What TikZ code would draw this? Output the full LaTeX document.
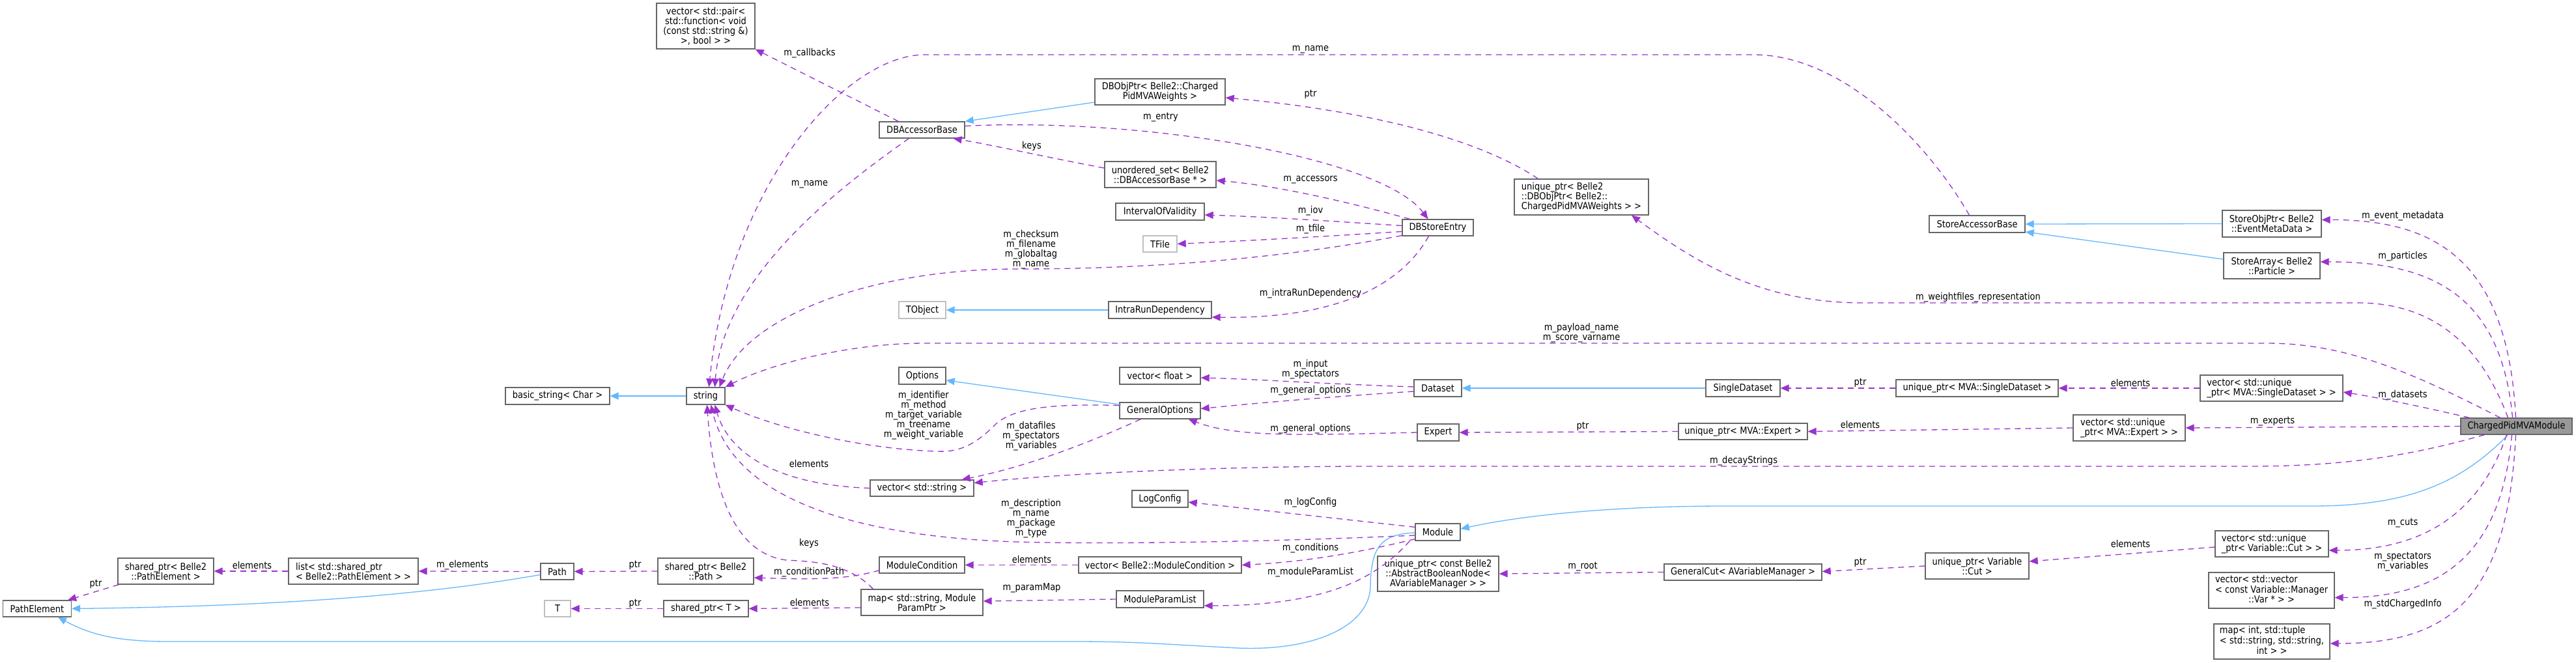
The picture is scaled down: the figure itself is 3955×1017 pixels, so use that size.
\documentclass[tikz,border=0pt]{standalone}
\usepackage{fontspec}
\setmainfont{DejaVu Sans}[FakeStretch=0.88]
\usetikzlibrary{arrows.meta,calc}
\definecolor{usecol}{HTML}{9A32CD}
\definecolor{inhcol}{HTML}{63B8FF}
\definecolor{bordcol}{HTML}{666666}
\definecolor{lightbord}{HTML}{BFBFBF}
\definecolor{mainfill}{HTML}{999999}
\newcommand\dgfont{\fontsize{14.8}{15}\selectfont}
\tikzset{
  cls/.style={draw=bordcol, line width=1.3pt, fill=white, inner sep=0pt, font=\dgfont, align=center},
  ext/.style={cls, draw=lightbord},
  box/.style 2 args={minimum width=#1pt, minimum height=#2pt},
  usage/.style={draw=usecol, line width=1.3pt, dash pattern=on 9pt off 7pt, -{Triangle[length=13pt,width=11pt]}},
  inh/.style={draw=inhcol, line width=1.3pt, -{Triangle[length=13pt,width=11pt]}},
  lbl/.style={font=\dgfont, inner sep=0pt, align=center, text=black}
}
\begin{document}
\begin{tikzpicture}[x=1pt,y=-1pt]
\path[use as bounding box, fill=white] (0,0) rectangle (3955,1017);
% ---------------- nodes
\node[cls, box={105}{25}] (pe) at (57,934.5) {PathElement};
\node[cls, box={147}{40}] (spPE) at (254.5,877) {shared\_ptr< Belle2\\::PathElement >};
\node[cls, box={199}{40}, align=left] (lst) at (542.5,877) {list< std::shared\_ptr\\< Belle2::PathElement > >};
\node[cls, box={51}{25}] (path) at (855.5,877.5) {Path};
\node[cls, box={147}{40}] (spP) at (1083.5,877) {shared\_ptr< Belle2\\::Path >};
\node[ext, box={40}{25}] (T) at (856,934.5) {T};
\node[cls, box={130}{25}] (spT) at (1084,934.5) {shared\_ptr< T >};
\node[cls, box={160}{26}] (bs) at (856,608) {basic\_string< Char >};
\node[cls, box={59}{26}] (str) at (1083.5,608) {string};
\node[cls, box={151}{70}] (vpair) at (1083.5,40) {vector< std::pair<\\std::function< void\\(const std::string \&)\\>, bool > >};
\node[cls, box={131}{25}] (dbab) at (1415.5,199.5) {DBAccessorBase};
\node[cls, box={159}{25}] (vstr) at (1415.5,749.5) {vector< std::string >};
\node[cls, box={131}{25}] (mc) at (1415.5,867.5) {ModuleCondition};
\node[cls, box={187}{40}] (mapP) at (1415.5,925) {map< std::string, Module\\ParamPtr >};
\node[ext, box={72}{26}] (tobj) at (1416,476) {TObject};
\node[cls, box={72}{26}] (opt) at (1416,577) {Options};
\node[cls, box={200}{40}] (dbop) at (1781,141) {DBObjPtr< Belle2::Charged\\PidMVAWeights >};
\node[cls, box={171}{40}] (us) at (1781.5,268) {unordered\_set< Belle2\\::DBAccessorBase * >};
\node[cls, box={136}{26}] (iov) at (1781,325) {IntervalOfValidity};
\node[ext, box={52}{25}] (tfile) at (1781,374.5) {TFile};
\node[cls, box={158}{26}] (ird) at (1781,476) {IntraRunDependency};
\node[cls, box={124}{26}] (vf) at (1781,577) {vector< float >};
\node[cls, box={124}{25}] (go) at (1781,630.5) {GeneralOptions};
\node[cls, box={86}{26}] (lc) at (1781,766) {LogConfig};
\node[cls, box={250}{25}] (vmc) at (1781,867.5) {vector< Belle2::ModuleCondition >};
\node[cls, box={134}{26}] (mpl) at (1781,920) {ModuleParamList};
\node[cls, box={109}{25}] (dbse) at (2207.5,349.5) {DBStoreEntry};
\node[cls, box={73}{26}] (ds) at (2207.5,596) {Dataset};
\node[cls, box={64}{26}] (ex) at (2208,664) {Expert};
\node[cls, box={69}{26}] (mod) at (2207.5,817) {Module};
\node[cls, box={186}{54}] (upabn) at (2208,881) {unique\_ptr< const Belle2\\::AbstractBooleanNode<\\AVariableManager > >};
\node[cls, box={206}{55}, align=left] (updbo) at (2428,302.5) {unique\_ptr< Belle2\\::DBObjPtr< Belle2::\\ChargedPidMVAWeights > >};
\node[cls, box={114}{26}] (sds) at (2676,596) {SingleDataset};
\node[cls, box={198}{25}] (upex) at (2676,662.5) {unique\_ptr< MVA::Expert >};
\node[cls, box={242}{25}] (gc) at (2676,878.5) {GeneralCut< AVariableManager >};
\node[cls, box={249}{26}] (upsds) at (3035.5,596) {unique\_ptr< MVA::SingleDataset >};
\node[cls, box={159}{40}] (upcut) at (3035.5,869) {unique\_ptr< Variable\\::Cut >};
\node[cls, box={147}{26}] (sab) at (3035.5,344) {StoreAccessorBase};
\node[cls, box={172}{40}, align=left] (vupex) at (3269,657) {vector< std::unique\\\_ptr< MVA::Expert > >};
\node[cls, box={152}{41}] (sop) at (3488,343.5) {StoreObjPtr< Belle2\\::EventMetaData >};
\node[cls, box={148}{40}] (sa) at (3488,408) {StoreArray< Belle2\\::Particle >};
\node[cls, box={219}{40}, align=left] (vupsds) at (3487.5,596) {vector< std::unique\\\_ptr< MVA::SingleDataset > >};
\node[cls, box={174}{40}, align=left] (vupcut) at (3488,835) {vector< std::unique\\\_ptr< Variable::Cut > >};
\node[cls, box={193}{55}] (vvar) at (3487.5,906.5) {\begin{tabular}{@{}l@{}}vector< std::vector\\< const Variable::Manager\\\multicolumn{1}{@{}c@{}}{::Var * > >}\end{tabular}};
\node[cls, box={178}{54}] (mapT) at (3488,985) {\begin{tabular}{@{}l@{}}map< int, std::tuple\\< std::string, std::string,\\\multicolumn{1}{@{}c@{}}{int > >}\end{tabular}};
\node[cls, box={171}{25}, fill=mainfill] (cpm) at (3863.5,654.5) {ChargedPidMVAModule};
% ---------------- inheritance
\draw[inh] (str.west) -- (bs.east);
\draw[inh] ($(dbop.west)+(0,16)$) -- (dbab.north east);
\draw[inh] (ird.west) -- (tobj.east);
\draw[inh] ($(go.north west)+(3,4)$) -- ($(opt.east)+(0,7)$);
\draw[inh] (sds.west) -- (ds.east);
\draw[inh] ($(path.west)+(0,5)$) .. controls (700,905) and (500,930) .. (pe.east);
\draw[inh] ($(mod.west)+(0,1)$) .. controls (2120,820) and (2105,840) .. (2104,900) .. controls (2103,960) and (2020,1000) .. (1900,995) .. controls (1800,990) and (1750,985) .. (1650,985) -- (260,985) .. controls (180,985) and (140,975) .. ($(pe.south)+(32,0)$);
\draw[inh] ($(cpm.south)+(-13,0)$) .. controls (3780,740) and (3700,777) .. (3550,777) -- (2650,777) .. controls (2450,777) and (2320,795) .. ($(mod.east)+(0,-5)$);
\draw[inh] (sop.west) -- (sab.east);
\draw[inh] ($(sa.west)+(0,-10)$) -- ($(sab.east)+(0,12)$);
% ---------------- usage
\draw[usage] ($(dbab.north west)+(30,0)$) -- (vpair.south east);
\draw[usage] ($(dbab.south west)+(46,0)$) .. controls (1300,280) and (1110,420) .. ($(str.north)+(14,0)$);
\draw[usage] ($(sab.north)+(-12,0)$) .. controls (2960,220) and (2830,84) .. (2692,84) -- (1420,84) .. controls (1300,84) and (1120,280) .. ($(str.north)+(5,0)$);
\draw[usage] ($(dbse.south west)+(0,-1)$) .. controls (1950,400) and (1750,413) .. (1560,413) .. controls (1350,413) and (1150,480) .. ($(str.north)+(21,0)$);
\draw[usage] ($(cpm.north)+(-25,0)$) .. controls (3700,570) and (3600,527) .. (3480,527) -- (1420,527) .. controls (1300,527) and (1180,560) .. (str.north east);
\draw[usage] ($(go.west)+(0,-8)$) .. controls (1620,620) and (1560,625) .. (1530,650) .. controls (1505,675) and (1480,695) .. (1440,693) .. controls (1330,690) and (1200,660) .. (str.south east);
\draw[usage] (vstr.west) .. controls (1200,745) and (1120,700) .. ($(str.south)+(14,0)$);
\draw[usage] ($(mod.west)+(0,5)$) .. controls (1950,832) and (1700,836) .. (1560,832) .. controls (1350,825) and (1130,780) .. ($(str.south)+(8,0)$);
\draw[usage] ($(mapP.north)+(-75,0)$) .. controls (1300,862) and (1240,862) .. (1207,860) .. controls (1130,850) and (1095,760) .. ($(str.south)+(2,0)$);
\draw[usage] ($(dbab.east)+(0,-6)$) .. controls (1750,180) and (2120,240) .. ($(dbse.north)+(-15,0)$);
\draw[usage] ($(us.west)+(0,-10)$) .. controls (1600,240) and (1520,222) .. ($(dbab.south east)+(-18,0)$);
\draw[usage] ($(dbse.north west)+(12,0)$) .. controls (2070,310) and (1960,285) .. ($(us.east)+(0,9)$);
\draw[usage] ($(dbse.west)+(0,-3)$) .. controls (2050,340) and (1950,333) .. ($(iov.east)+(0,5)$);
\draw[usage] ($(dbse.west)+(0,6)$) .. controls (2050,362) and (1950,368) .. (tfile.east);
\draw[usage] ($(dbse.south)+(-14,0)$) .. controls (2150,440) and (2050,490) .. ($(ird.east)+(0,11)$);
\draw[usage] ($(updbo.north west)+(37,0)$) .. controls (2250,200) and (2050,165) .. ($(dbop.east)+(0,9)$);
\draw[usage] ($(cpm.north)+(-13,0)$) .. controls (3820,560) and (3760,465) .. (3620,465) -- (2860,465) .. controls (2700,465) and (2600,400) .. ($(updbo.south)+(77,0)$);
\draw[usage] ($(cpm.north)+(-1,0)$) .. controls (3850,400) and (3740,337) .. ($(sop.east)+(0,-6)$);
\draw[usage] ($(cpm.north)+(-6,0)$) .. controls (3840,450) and (3730,402) .. ($(sa.east)+(0,-6)$);
\draw[usage] ($(cpm.north west)+(14,0)$) .. controls (3720,625) and (3660,612) .. ($(vupsds.east)+(0,6)$);
\draw[usage] (cpm.west) -- (vupex.east);
\draw[usage] ($(cpm.south west)+(37,0)$) .. controls (3700,700) and (3600,716) .. (3450,716) -- (2100,716) .. controls (1900,716) and (1650,725) .. ($(vstr.east)+(0,-8)$);
\draw[usage] ($(cpm.south)+(-15,0)$) .. controls (3810,780) and (3730,845) .. ($(vupcut.east)+(0,10)$);
\draw[usage] ($(cpm.south)+(-7,0)$) .. controls (3840,850) and (3750,918) .. ($(vvar.east)+(0,11)$);
\draw[usage] ($(cpm.south)+(-1,0)$) .. controls (3850,920) and (3760,988) .. ($(mapT.east)+(0,3)$);
\draw[usage] (vupsds.west) -- (upsds.east);
\draw[usage] (upsds.west) -- (sds.east);
\draw[usage] ($(ds.west)+(0,-2)$) .. controls (2000,588) and (1950,583) .. ($(vf.east)+(0,3)$);
\draw[usage] ($(ds.west)+(0,5)$) .. controls (2000,612) and (1900,622) .. ($(go.east)+(0,-3)$);
\draw[usage] (ex.west) .. controls (2000,668) and (1900,672) .. ($(go.south east)+(-19,0)$);
\draw[usage] (upex.west) -- (ex.east);
\draw[usage] (vupex.west) -- (upex.east);
\draw[usage] ($(go.south west)+(33,0)$) .. controls (1650,690) and (1560,720) .. ($(vstr.north east)+(-19,0)$);
\draw[usage] ($(mod.north west)+(0,6)$) -- ($(lc.east)+(0,5)$);
\draw[usage] ($(mod.south west)+(0,-3)$) .. controls (2080,850) and (2000,863) .. (vmc.east);
\draw[usage] (vmc.west) -- (mc.east);
\draw[usage] ($(mc.south west)+(1,-5)$) .. controls (1300,890) and (1250,890) .. ($(spP.east)+(0,10)$);
\draw[usage] (spP.west) -- (path.east);
\draw[usage] (path.west) -- (lst.east);
\draw[usage] (lst.west) -- (spPE.east);
\draw[usage] ($(spPE.south west)+(2,0)$) -- ($(pe.north east)+(-6,0)$);
\draw[usage] ($(mod.south west)+(-8,0)$) .. controls (2120,880) and (2050,930) .. ($(mpl.east)+(0,10)$);
\draw[usage] (mpl.west) -- ($(mapP.east)+(0,-2)$);
\draw[usage] ($(mapP.west)+(0,8)$) -- (spT.east);
\draw[usage] (spT.west) -- (T.east);
\draw[usage] (gc.west) -- (upabn.east);
\draw[usage] (upcut.west) -- ($(gc.east)+(0,-1)$);
\draw[usage] ($(vupcut.west)+(0,5)$) -- ($(upcut.east)+(0,-7)$);
% ---------------- labels
\node[lbl] (l1) at (1243,82) {m\_callbacks};
\node[lbl] (l2) at (1243,283) {m\_name};
\node[lbl] (l3) at (2012,76) {m\_name};
\node[lbl] (l4) at (1782,180) {m\_entry};
\node[lbl] (l5) at (1584,224) {keys};
\node[lbl] (l6) at (2012,145) {ptr};
\node[lbl] (l7) at (2012,276) {m\_accessors};
\node[lbl] (l8) at (2012,324) {m\_iov};
\node[lbl] (l9) at (2012,352) {m\_tfile};
\node[lbl] (l10) at (1583,383) {m\_checksum\\m\_filename\\m\_globaltag\\m\_name};
\node[lbl] (l11) at (2012,451) {m\_intraRunDependency};
\node[lbl] (l12) at (3037,457) {m\_weightfiles\_representation};
\node[lbl] (l13) at (3689,332) {m\_event\_metadata};
\node[lbl] (l14) at (3689,394) {m\_particles};
\node[lbl] (l15) at (2428,511) {m\_payload\_name\\m\_score\_varname};
\node[lbl] (l16) at (2012,567) {m\_input\\m\_spectators};
\node[lbl] (l17) at (2012,600) {m\_general\_options};
\node[lbl] (l18) at (2012,659) {m\_general\_options};
\node[lbl] (l19) at (1418,638) {m\_identifier\\m\_method\\m\_target\_variable\\m\_treename\\m\_weight\_variable};
\node[lbl] (l20) at (1583,670) {m\_datafiles\\m\_spectators\\m\_variables};
\node[lbl] (l21) at (1242,712) {elements};
\node[lbl] (l22) at (2677,708) {m\_decayStrings};
\node[lbl] (l23) at (3689,607) {m\_datasets};
\node[lbl] (l24) at (3489,647) {m\_experts};
\node[lbl] (l25) at (2856,588) {ptr};
\node[lbl] (l26) at (3271,588) {elements};
\node[lbl] (l27) at (2856,652) {elements};
\node[lbl] (l28) at (2430,655) {ptr};
\node[lbl] (l29) at (2012,772) {m\_logConfig};
\node[lbl] (l30) at (1583,796) {m\_description\\m\_name\\m\_package\\m\_type};
\node[lbl] (l31) at (2012,842) {m\_conditions};
\node[lbl] (l32) at (2012,879) {m\_moduleParamList};
\node[lbl] (l33) at (1584,859) {elements};
\node[lbl] (l34) at (1584,903) {m\_paramMap};
\node[lbl] (l35) at (1242,834) {keys};
\node[lbl] (l36) at (1242,879) {m\_conditionPath};
\node[lbl] (l37) at (975,868) {ptr};
\node[lbl] (l38) at (975,927) {ptr};
\node[lbl] (l39) at (1243,925) {elements};
\node[lbl] (l40) at (710,868) {m\_elements};
\node[lbl] (l41) at (387,868) {elements};
\node[lbl] (l42) at (147,897) {ptr};
\node[lbl] (l43) at (2430,870) {m\_root};
\node[lbl] (l44) at (2856,864) {ptr};
\node[lbl] (l45) at (3271,835) {elements};
\node[lbl] (l46) at (3689,803) {m\_cuts};
\node[lbl] (l47) at (3689,863) {m\_spectators\\m\_variables};
\node[lbl] (l48) at (3689,928) {m\_stdChargedInfo};
\end{tikzpicture}
\end{document}
